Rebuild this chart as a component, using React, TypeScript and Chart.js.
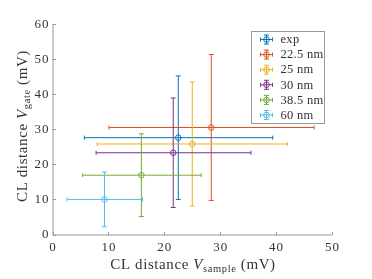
import React, { useEffect, useRef } from "react";
import { Chart, registerables } from "chart.js";

Chart.register(...registerables);

const labels = ["exp", "22.5 nm", "25 nm", "30 nm", "38.5 nm", "60 nm"];
const colors = ["#0072BD", "#D95319", "#EDB120", "#7E2F8E", "#77AC30", "#4DBEEE"];
const xVals = [22.5, 28.4, 25.0, 21.6, 15.9, 9.3];
const yVals = [27.6, 30.5, 25.8, 23.3, 16.9, 10.0];
const xLow = [5.7, 10.1, 8.0, 7.8, 5.4, 2.6];
const xHigh = [39.4, 46.8, 42.0, 35.5, 26.6, 16.1];
const yLow = [10.0, 9.7, 8.1, 7.7, 5.1, 2.2];
const yHigh = [45.2, 51.3, 43.5, 38.9, 28.7, 17.8];
const xTicks = [0, 10, 20, 30, 40, 50];
const yTicks = [0, 10, 20, 30, 40, 50, 60];

const FONT = "'Liberation Serif', 'DejaVu Serif', serif";
const TEXT = "#333333";
const AXIS = "#999999";

function drawErrIcon(ctx: CanvasRenderingContext2D, cx: number, cy: number, color: string, hx: number, vy: number) {
  ctx.save();
  ctx.strokeStyle = color;
  ctx.lineWidth = 1;
  ctx.beginPath();
  ctx.moveTo(cx - hx, cy); ctx.lineTo(cx + hx, cy);
  ctx.moveTo(cx - hx, cy - 2); ctx.lineTo(cx - hx, cy + 2);
  ctx.moveTo(cx + hx, cy - 2); ctx.lineTo(cx + hx, cy + 2);
  ctx.moveTo(cx, cy - vy); ctx.lineTo(cx, cy + vy);
  ctx.moveTo(cx - 2.5, cy - vy); ctx.lineTo(cx + 2.5, cy - vy);
  ctx.moveTo(cx - 2.5, cy + vy); ctx.lineTo(cx + 2.5, cy + vy);
  ctx.stroke();
  ctx.beginPath();
  ctx.arc(cx, cy, 2.8, 0, Math.PI * 2);
  ctx.stroke();
  ctx.restore();
}

const errorBarPlugin = {
  id: "errorBars",
  afterDatasetsDraw(chart: any) {
    const ctx: CanvasRenderingContext2D = chart.ctx;
    const xs = chart.scales.x;
    const ys = chart.scales.y;
    ctx.save();
    chart.data.datasets.forEach((ds: any, i: number) => {
      const cx = xs.getPixelForValue(xVals[i]);
      const cy = ys.getPixelForValue(yVals[i]);
      const x0 = xs.getPixelForValue(xLow[i]);
      const x1 = xs.getPixelForValue(xHigh[i]);
      const y0 = ys.getPixelForValue(yLow[i]);
      const y1 = ys.getPixelForValue(yHigh[i]);
      ctx.strokeStyle = colors[i];
      ctx.lineWidth = 1;
      ctx.beginPath();
      ctx.moveTo(x0, cy); ctx.lineTo(x1, cy);
      ctx.moveTo(x0, cy - 2); ctx.lineTo(x0, cy + 2);
      ctx.moveTo(x1, cy - 2); ctx.lineTo(x1, cy + 2);
      ctx.moveTo(cx, y0); ctx.lineTo(cx, y1);
      ctx.moveTo(cx - 2.5, y0); ctx.lineTo(cx + 2.5, y0);
      ctx.moveTo(cx - 2.5, y1); ctx.lineTo(cx + 2.5, y1);
      ctx.stroke();
    });
    ctx.restore();
  },
  afterDraw(chart: any) {
    const ctx: CanvasRenderingContext2D = chart.ctx;
    const xs = chart.scales.x;
    const ys = chart.scales.y;
    const area = chart.chartArea;
    ctx.save();
    // axes lines and inward ticks
    ctx.strokeStyle = AXIS;
    ctx.lineWidth = 1;
    ctx.beginPath();
    ctx.moveTo(area.left + 0.5, area.top);
    ctx.lineTo(area.left + 0.5, area.bottom + 0.5);
    ctx.lineTo(area.right, area.bottom + 0.5);
    xTicks.forEach((t) => {
      const px = Math.round(xs.getPixelForValue(t)) + 0.5;
      ctx.moveTo(px, area.bottom + 0.5);
      ctx.lineTo(px, area.bottom - 2.5);
    });
    yTicks.forEach((t) => {
      const py = Math.round(ys.getPixelForValue(t)) + 0.5;
      ctx.moveTo(area.left + 0.5, py);
      ctx.lineTo(area.left + 3.5, py);
    });
    ctx.stroke();

    // tick labels
    ctx.fillStyle = TEXT;
    (ctx as any).letterSpacing = "1px";
    ctx.font = `13px ${FONT}`;
    ctx.textBaseline = "middle";
    ctx.textAlign = "center";
    xTicks.forEach((t) => {
      const s = String(t);
      const w = ctx.measureText(s).width;
      ctx.textAlign = "left";
      ctx.fillText(s, xs.getPixelForValue(t) - (w - 1) / 2, area.bottom + 13);
    });
    yTicks.forEach((t) => {
      const s = String(t);
      const w = ctx.measureText(s).width;
      ctx.textAlign = "left";
      ctx.fillText(s, area.left - 4 - (w - 1), ys.getPixelForValue(t) + 0.5);
    });

    // axis titles
    (ctx as any).letterSpacing = "0.6px";
    const big = `15px ${FONT}`;
    const bigIt = `italic 15px ${FONT}`;
    const sub = `10.5px ${FONT}`;
    const drawTitle = (parts: { t: string; f: string; dy: number }[], cx: number, cy: number, rot: boolean) => {
      let total = 0;
      parts.forEach((p) => { ctx.font = p.f; total += ctx.measureText(p.t).width; });
      ctx.save();
      ctx.translate(cx, cy);
      if (rot) ctx.rotate(-Math.PI / 2);
      ctx.textBaseline = "middle";
      ctx.textAlign = "left";
      let x = -total / 2;
      parts.forEach((p) => {
        ctx.font = p.f;
        ctx.fillText(p.t, x, p.dy);
        x += ctx.measureText(p.t).width;
      });
      ctx.restore();
    };
    drawTitle([
      { t: "CL distance ", f: big, dy: 0 },
      { t: "V", f: bigIt, dy: 0 },
      { t: "sample", f: sub, dy: 4 },
      { t: " (mV)", f: big, dy: 0 },
    ], 193, 265.5, false);
    drawTitle([
      { t: "CL distance ", f: big, dy: 0 },
      { t: "V", f: bigIt, dy: 0 },
      { t: "gate", f: sub, dy: 4 },
      { t: " (mV)", f: big, dy: 0 },
    ], 23, 126, true);

    // legend
    const lx = 251.5, ly = 31.5, lw = 73, lh = 92;
    (ctx as any).letterSpacing = "0.3px";
    ctx.fillStyle = "#ffffff";
    ctx.fillRect(lx, ly, lw, lh);
    ctx.strokeStyle = AXIS;
    ctx.strokeRect(lx, ly, lw, lh);
    ctx.font = `12.5px ${FONT}`;
    ctx.textBaseline = "middle";
    ctx.textAlign = "left";
    labels.forEach((lab, i) => {
      const cy = 39.5 + i * 15.1;
      drawErrIcon(ctx, 266.5, cy, colors[i], 6, 4.5);
      ctx.fillStyle = TEXT;
      ctx.fillText(lab, 280.5, cy + 0.5);
    });
    ctx.restore();
  },
};

export default function App() {
  const ref = useRef<HTMLCanvasElement>(null);
  useEffect(() => {
    document.body.style.margin = "0";
    const datasets = labels.map((lab, i) => ({
      label: lab,
      data: [{ x: xVals[i], y: yVals[i] }],
      borderColor: colors[i],
      backgroundColor: "rgba(0,0,0,0)",
      pointRadius: 2.8,
      pointBorderWidth: 1,
      pointStyle: "circle",
      showLine: false,
    }));
    const chart = new Chart(ref.current!, {
      type: "scatter",
      data: { datasets },
      options: {
        animation: false,
        responsive: false,
        layout: { padding: { left: 0, top: 24, right: 40, bottom: 0 } },
        plugins: { legend: { display: false }, tooltip: { enabled: false } },
        scales: {
          x: {
            type: "linear",
            min: 0,
            max: 50,
            afterBuildTicks: (s: any) => { s.ticks = xTicks.map((v) => ({ value: v })); },
            afterFit: (s: any) => { s.height = 44.5; },
            border: { display: false },
            grid: { display: false, drawTicks: false },
            ticks: { display: false },
          },
          y: {
            type: "linear",
            min: 0,
            max: 60,
            afterBuildTicks: (s: any) => { s.ticks = yTicks.map((v) => ({ value: v })); },
            afterFit: (s: any) => { s.width = 52.5; },
            border: { display: false },
            grid: { display: false, drawTicks: false },
            ticks: { display: false },
          },
        },
      },
      plugins: [errorBarPlugin],
    });
    return () => chart.destroy();
  }, []);
  return <canvas ref={ref} width={372} height={279} style={{ display: "block" }} />;
}
